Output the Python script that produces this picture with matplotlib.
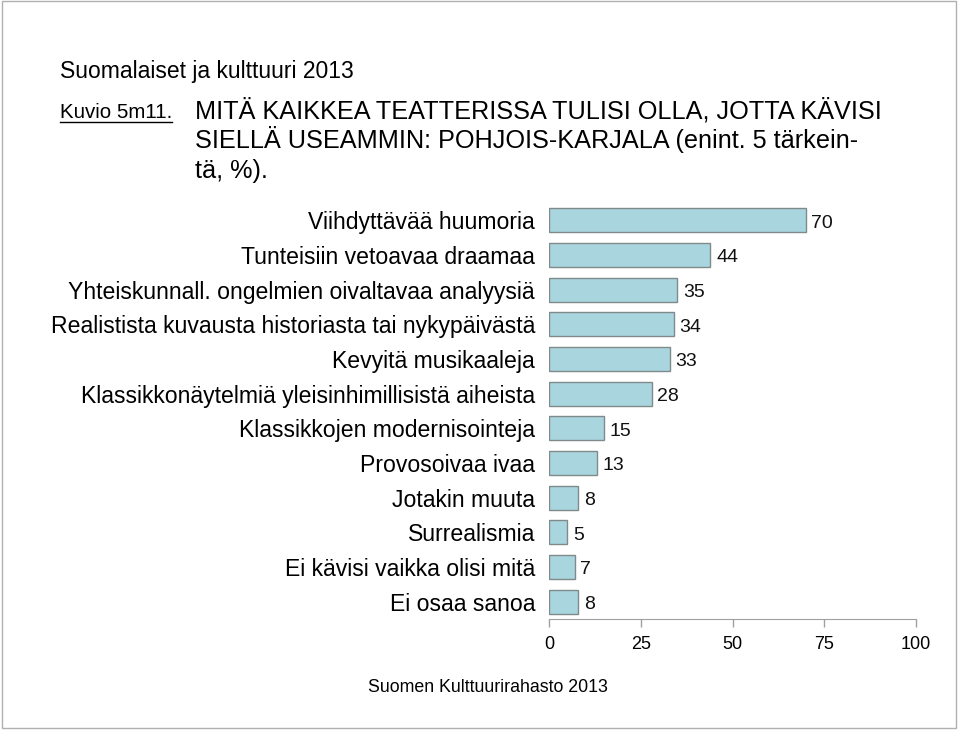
import matplotlib.pyplot as plt
from matplotlib.patches import Rectangle
from matplotlib.lines import Line2D

plt.rcParams['font.family'] = ['Liberation Sans', 'DejaVu Sans']

# data
categories = [
    'Viihdyttävää huumoria',
    'Tunteisiin vetoavaa draamaa',
    'Yhteiskunnall. ongelmien oivaltavaa analyysiä',
    'Realistista kuvausta historiasta tai nykypäivästä',
    'Kevyitä musikaaleja',
    'Klassikkonäytelmiä yleisinhimillisistä aiheista',
    'Klassikkojen modernisointeja',
    'Provosoivaa ivaa',
    'Jotakin muuta',
    'Surrealismia',
    'Ei kävisi vaikka olisi mitä',
    'Ei osaa sanoa',
]
values = [70, 44, 35, 34, 33, 28, 15, 13, 8, 5, 7, 8]
xticks = [0, 25, 50, 75, 100]

W, H = 960, 732
fig = plt.figure(figsize=(W / 100, H / 100), dpi=100)

def fy(py):
    return 1 - py / H

# frame around the whole picture
fig.add_artist(Rectangle((2 / W, fy(728)), 954 / W, 727 / H, transform=fig.transFigure,
                         fill=False, edgecolor='#b0b0b0', linewidth=1))

ax = fig.add_axes([549 / W, fy(619), 367 / W, (619 - 203) / H])
ypos = list(range(len(categories)))
ax.barh(ypos, values, height=0.7, color='#a9d6de', edgecolor='#808a8c', linewidth=1)
for y, v in zip(ypos, values):
    ax.annotate(str(v), (v, y), xytext=(4, -2), textcoords='offset points',
                va='center', ha='left', fontsize=14, color='#111111')

ax.set_xlim(0, 100)
ax.set_ylim(len(categories) - 0.5, -0.5)
ax.set_yticks(ypos)
ax.set_yticklabels(categories, fontsize=16.6)
ax.tick_params(axis='y', length=0, pad=10)
ax.set_xticks(xticks)
ax.tick_params(axis='x', length=6, width=1, color='#a0a0a0', labelsize=13, pad=6)
for s in ['top', 'right', 'left']:
    ax.spines[s].set_visible(False)
ax.spines['bottom'].set_color('#a0a0a0')

# texts
fig.text(60 / W, fy(78), 'Suomalaiset ja kulttuuri 2013', fontsize=16.5, va='baseline')
fig.text(60 / W, fy(118), 'Kuvio 5m11.', fontsize=14.8, va='baseline')
fig.add_artist(Line2D([60 / W, 172 / W], [fy(122), fy(122)], color='black', linewidth=1))
title_lines = ['MITÄ KAIKKEA TEATTERISSA TULISI OLLA, JOTTA KÄVISI',
               'SIELLÄ USEAMMIN: POHJOIS-KARJALA (enint. 5 tärkein-',
               'tä, %).']
for i, line in enumerate(title_lines):
    fig.text(195 / W, fy(118 + 30 * i), line, fontsize=18.2, va='baseline')
fig.text(488 / W, fy(692), 'Suomen Kulttuurirahasto 2013', fontsize=12.8, va='baseline', ha='center')

fig.savefig('out.png', dpi=100)
